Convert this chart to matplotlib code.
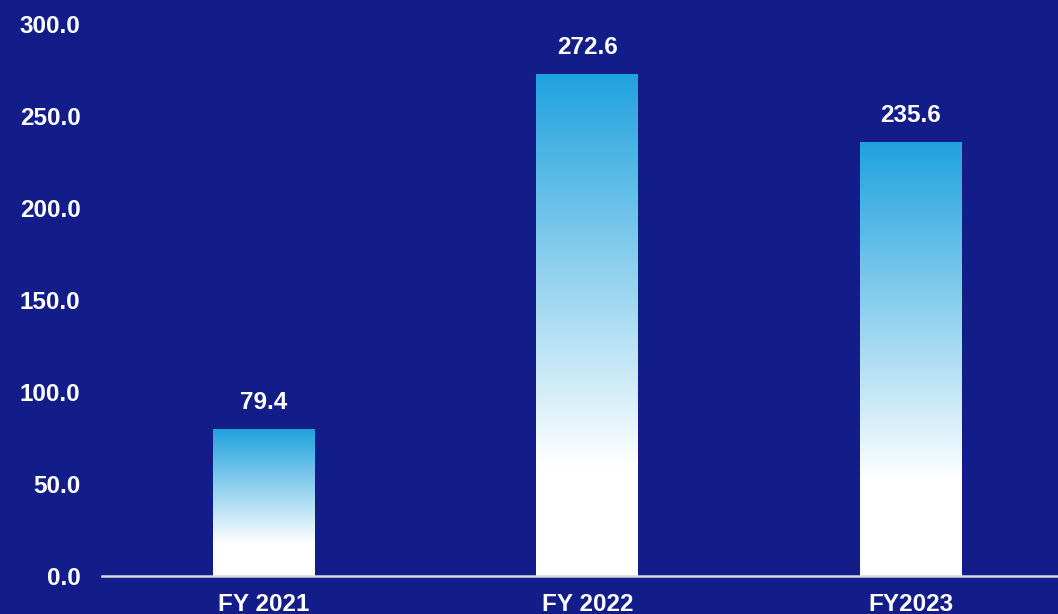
import matplotlib
matplotlib.use("Agg")
import matplotlib.pyplot as plt
import numpy as np
from matplotlib.colors import LinearSegmentedColormap

categories = ["FY 2021", "FY 2022", "FY2023"]
values = [79.4, 272.6, 235.6]
yticks = [0, 50, 100, 150, 200, 250, 300]

BG = "#131D8A"
BLUE = "#20A2DE"
FS = 17.5

plt.rcParams['font.family'] = ['Liberation Sans', 'DejaVu Sans']

fig = plt.figure(figsize=(10.58, 6.14), dpi=100, facecolor=BG)
ax = fig.add_axes([102/1058, 38/614, 970.5/1058, 552/614])
ax.set_facecolor(BG)

x = np.arange(len(categories))
bars = ax.bar(x, values, width=0.315, color="none", edgecolor="none", zorder=2)

cmap = LinearSegmentedColormap.from_list("g", [(0, "white"), (0.22, "white"), (1, BLUE)])
grad = np.linspace(0, 1, 256).reshape(-1, 1)
for b in bars:
    bx, by, bw, bh = b.get_x(), b.get_y(), b.get_width(), b.get_height()
    ax.imshow(grad, extent=[bx, bx + bw, by, by + bh], origin="lower",
              cmap=cmap, aspect="auto", zorder=2, interpolation="bicubic")
    ax.text(bx + bw / 2, bh + 8.5, f"{bh:.1f}", ha="center", va="bottom",
            color="white", fontsize=FS, fontweight="bold")

ax.set_xlim(-0.5, len(categories) - 0.5)
ax.set_ylim(0, 300)
ax.set_yticks(yticks)
ax.set_yticklabels([f"{v:.1f}" for v in yticks], color="white", fontsize=FS, fontweight="bold")
ax.set_xticks(x)
ax.set_xticklabels(categories, color="white", fontsize=FS, fontweight="bold")
ax.tick_params(axis="both", length=0)
ax.tick_params(axis="y", pad=15.5)
ax.tick_params(axis="x", pad=12)
for s in ["top", "right", "left"]:
    ax.spines[s].set_visible(False)
ax.spines["bottom"].set_color("#D9D9D9")
ax.spines["bottom"].set_linewidth(1.8)
ax.spines["bottom"].set_zorder(3)

fig.savefig("out.png", dpi=100, facecolor=BG)
